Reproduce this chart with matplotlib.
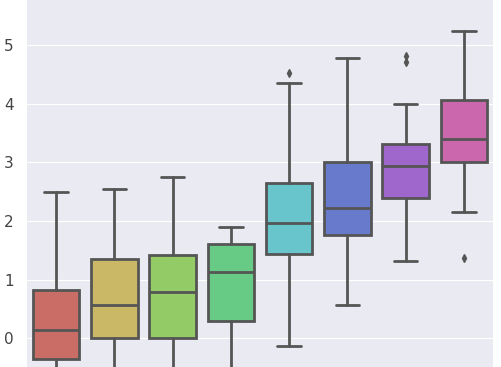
import matplotlib
matplotlib.use("Agg")
import matplotlib.pyplot as plt
import seaborn as sns

sns.set_style("darkgrid")

categories = ["0", "1", "2", "3", "4", "5", "6", "7"]
whislo = [-1.6, -1.2, -1.0, -0.8, -0.14, 0.57, 1.31, 2.15]
q1 = [-0.36, 0.0, 0.0, 0.29, 1.43, 1.76, 2.39, 3.00]
med = [0.14, 0.56, 0.79, 1.13, 1.97, 2.22, 2.93, 3.40]
q3 = [0.82, 1.35, 1.42, 1.60, 2.65, 3.00, 3.32, 4.06]
whishi = [2.49, 2.54, 2.75, 1.89, 4.35, 4.78, 3.99, 5.24]
fliers = [[], [], [], [], [4.52], [], [4.81, 4.71], [1.37]]

stats = []
for i, c in enumerate(categories):
    stats.append(dict(label=c, whislo=whislo[i], q1=q1[i], med=med[i],
                      q3=q3[i], whishi=whishi[i], fliers=fliers[i]))

colors = sns.color_palette("hls", len(categories))
colors = [sns.desaturate(c, 0.75) for c in colors]
line_color = "#555555"

fig = plt.figure(figsize=(5.02, 3.67), dpi=100)
ax = fig.add_axes([27 / 502, 0, (493 - 27) / 502, 1])
bp = ax.bxp(stats, positions=list(range(len(categories))), widths=0.8,
            patch_artist=True, showfliers=True,
            boxprops=dict(edgecolor=line_color, linewidth=2),
            medianprops=dict(color=line_color, linewidth=2),
            whiskerprops=dict(color=line_color, linewidth=2),
            capprops=dict(color=line_color, linewidth=2),
            flierprops=dict(marker="d", markerfacecolor=line_color,
                            markeredgecolor=line_color, markersize=4))
for patch, col in zip(bp["boxes"], colors):
    patch.set_facecolor(col)

ax.set_xlim(-0.5, 7.5)
ax.set_ylim(-0.49, 5.77)
ax.set_yticks([0, 1, 2, 3, 4, 5])
ax.xaxis.grid(False)
ax.tick_params(axis="y", labelsize=11, labelcolor="#444444", pad=6)
ax.set_xticklabels([])
ax.tick_params(axis="x", length=0)
for s in ax.spines.values():
    s.set_visible(False)

fig.savefig("out.png", dpi=100)
